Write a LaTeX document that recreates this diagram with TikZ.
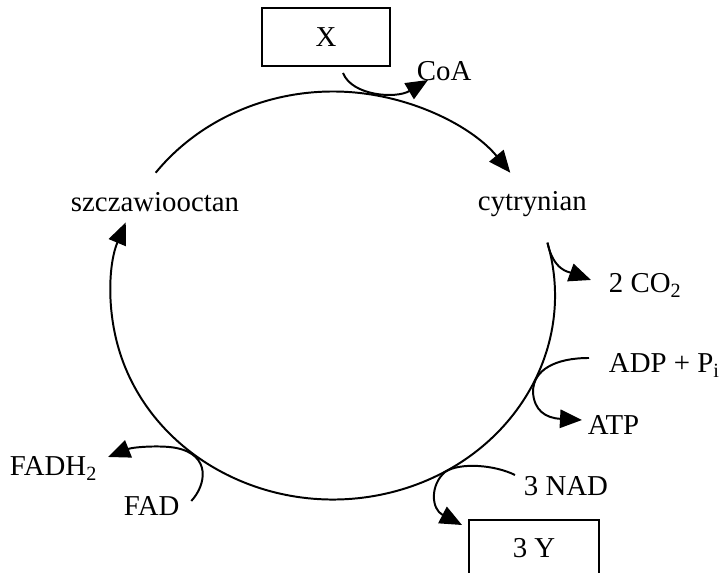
\documentclass[tikz,border=0pt]{standalone}
\usepackage{fontspec}
\setmainfont{Liberation Serif}
\usetikzlibrary{arrows.meta,calc}

\tikzset{
    arr/.style={-{Triangle[length=0.55cm,width=0.46cm]}},
    lbl/.style={inner sep=0pt,anchor=base west},
    box/.style={draw,minimum width=3.2cm,minimum height=1.45cm}
}

\begin{document}
\begin{tikzpicture}[line width=1.4pt,font=\fontsize{20.5}{24}\selectfont]
        \useasboundingbox (0,0) rectangle (17.975,14.325);
        \coordinate (c) at (8.325,6.9375);
        \node[box] (x) at (8.15,13.4) {X};
        \node[box,minimum width=3.25cm,minimum height=1.4cm] (y) at (13.35,0.625) {3 Y};
        \node[lbl] (coa) at (10.4,12.3) {CoA};
        \node[lbl] (cyt) at (11.925,9.05) {cytrynian};
        \node[lbl] (szcz) at (1.75,9.025) {szczawiooctan};
        \node[lbl] (co2) at (15.2,7.0) {2 CO\textsubscript{2}};
        \node[lbl] (adp) at (15.2,5.0) {ADP + P\textsubscript{i}};
        \node[lbl] (atp) at (14.675,3.45) {ATP};
        \node[lbl] (nad) at (13.075,1.925) {3 NAD};
        \node[lbl] (fadh) at (0.225,2.425) {FADH\textsubscript{2}};
        \node[lbl] (fad) at (3.075,1.425) {FAD};

        % cycle
        \draw[arr] ($(c)+(143:5.55 and 5.1)$) arc[start angle=143,end angle=37,x radius=5.55,y radius=5.1];
        \coordinate (r1) at ($(c)+(15:5.55 and 5.1)$);
        \draw[arr] (r1) arc[start angle=15,end angle=-201,x radius=5.55,y radius=5.1];

        % side reactions
        \draw[arr] ([xshift=0.425cm,yshift=-0.15cm]x.south) .. controls +(0.225,-0.575) and +(-0.8,-0.475) .. ([xshift=0.3cm,yshift=0.025cm]coa.base west);
        \draw[arr] (r1) .. controls +(0.15,-0.7) and +(-0.55,0.2) .. ([xshift=-0.425cm,yshift=0.325cm]co2.base west);
        \draw[arr] ([xshift=-0.475cm,yshift=0.375cm]adp.base west) .. controls +(-0.85,0) and +(0,0.55) .. ++(-1.4,-0.85)
            .. controls +(0.025,-0.45) and +(-0.925,0.05) .. ([xshift=-0.125cm,yshift=0.375cm]atp.base west);
        \draw[arr] ([xshift=-0.2cm,yshift=0.525cm]nad.base west) .. controls +(-0.5,0.25) and +(0.375,0.25) .. ++(-1.75,0.075)
            .. controls +(-0.375,-0.325) and +(-0.775,0.4) .. ([xshift=-0.15cm,yshift=-0.15cm]y.north west);
        \draw[arr] ([xshift=0.27cm,yshift=0.375cm]fad.base east) .. controls +(0.375,0.4) and +(0.875,-0.175) .. ++(-0.375,1.325)
            .. controls +(-0.375,0.075) and +(0.625,0.25) .. ([xshift=0.25cm,yshift=0.475cm]fadh.base east);
\end{tikzpicture}
\end{document}
